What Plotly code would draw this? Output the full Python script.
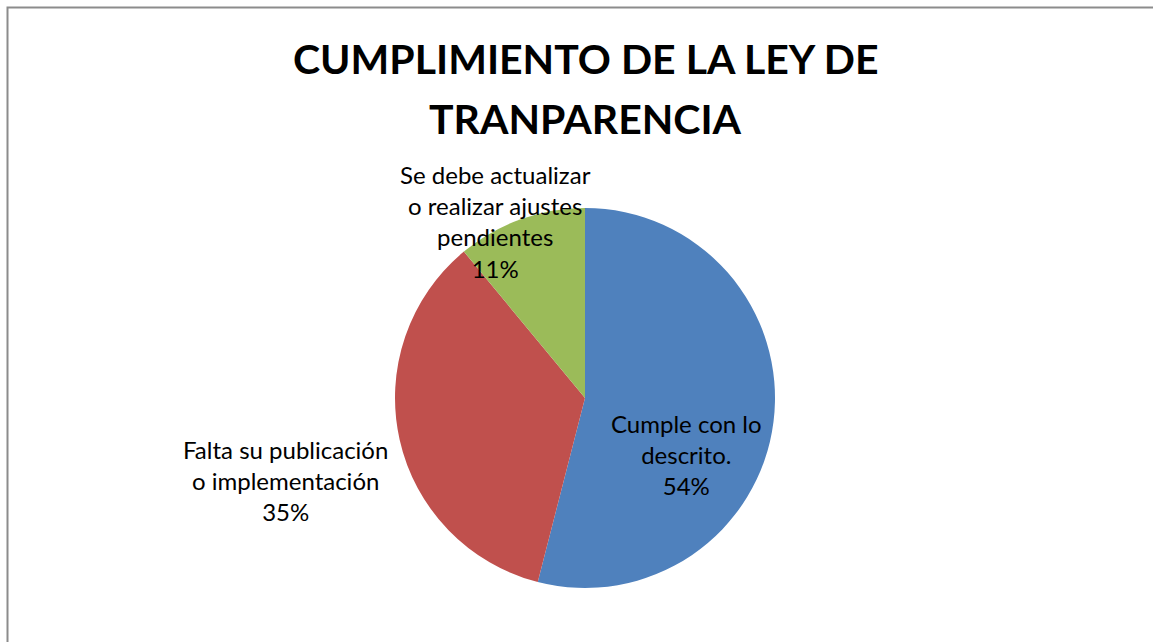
import plotly.graph_objects as go

categories = ["Cumple con lo<br>descrito.", "Falta su publicación<br>o implementación", "Se debe actualizar<br>o realizar ajustes<br>pendientes"]
values = [54, 35, 11]
colors = ["#4F81BD", "#C0504D", "#9BBB59"]
title_lines = ["CUMPLIMIENTO DE LA LEY DE", "TRANPARENCIA"]

W, H = 1153, 642
cx, cy, r = 585, 398, 190

total = sum(values)
pcts = [round(v / total * 100) for v in values]
label_texts = [f"{c}<br>{p}%" for c, p in zip(categories, pcts)]

fig = go.Figure(go.Pie(
    labels=categories,
    values=values,
    sort=False,
    direction="clockwise",
    rotation=0,
    marker=dict(colors=colors, line=dict(width=0)),
    textinfo="none",
    hoverinfo="label+percent",
    showlegend=False,
    domain=dict(x=[(cx - r) / W, (cx + r) / W], y=[(H - cy - r) / H, (H - cy + r) / H]),
))

# label centres (pixels from top-left)
label_pos = [(686, 454), (285, 480), (495, 222)]
label_font = dict(family="Lato", size=24, color="black")

annotations = []
for txt, (px, py) in zip(label_texts, label_pos):
    annotations.append(dict(text=txt, x=px / W, y=1 - py / H, xref="paper", yref="paper",
                            xanchor="center", yanchor="middle", showarrow=False,
                            font=label_font, align="center"))

for line, py in zip(title_lines, [58, 118]):
    annotations.append(dict(text=f"<b>{line}</b>", x=585 / W, y=1 - py / H, xref="paper", yref="paper",
                            xanchor="center", yanchor="middle", showarrow=False,
                            font=dict(family="Lato", size=41, color="black")))

fig.update_layout(
    width=W, height=H,
    margin=dict(l=0, r=0, t=0, b=0),
    paper_bgcolor="white",
    annotations=annotations,
    shapes=[dict(type="rect", xref="paper", yref="paper", x0=7.5 / W, x1=1.05, y0=-0.05, y1=1 - 7.5 / H,
                 line=dict(color="#8C8C8C", width=2), fillcolor="rgba(0,0,0,0)")],
)

fig.write_html("out.html", config={"displayModeBar": False},
               post_script="document.body.style.margin='0';")
